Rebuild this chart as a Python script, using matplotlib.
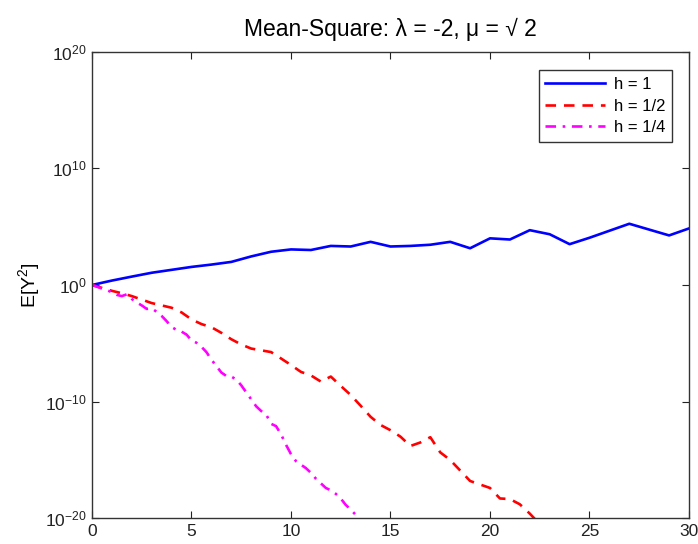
import numpy as np
import matplotlib
matplotlib.use("Agg")
import matplotlib.pyplot as plt
from matplotlib.ticker import FixedLocator, NullLocator, FuncFormatter

plt.rcParams['font.family'] = ['Liberation Sans', 'DejaVu Sans']
plt.rcParams['mathtext.fontset'] = 'custom'
plt.rcParams['mathtext.rm'] = 'Liberation Sans'
plt.rcParams['mathtext.it'] = 'Liberation Sans'
plt.rcParams['axes.unicode_minus'] = False

# log10 of E[Y^2]
t_h1 = list(range(0, 31))
log_h1 = [0.0, 0.38, 0.72, 1.05, 1.3, 1.55, 1.75, 1.98, 2.45, 2.85, 3.05,
          3.0, 3.35, 3.3, 3.7, 3.3, 3.35, 3.45, 3.7, 3.15, 4.0,
          3.9, 4.7, 4.35, 3.5, 4.05, 4.65, 5.25, 4.75, 4.25, 4.85]

t_h2 = [i * 0.5 for i in range(0, 46)]
log_h2 = [0.0, -0.25, -0.5, -0.71, -0.95, -1.25, -1.55, -1.75, -1.95, -2.35,
          -2.95, -3.35, -3.62, -4.1, -4.65, -5.1, -5.45, -5.6, -5.75, -6.3,
          -6.86, -7.45, -7.75, -8.28, -7.85, -8.65, -9.43, -10.35, -11.3, -12.0,
          -12.45, -13.0, -13.8, -13.5, -13.05, -14.35, -15.0, -15.9, -16.8, -17.1,
          -17.4, -18.3, -18.35, -18.8, -19.6, -20.5]

t_h4 = [i * 0.25 for i in range(0, 55)]
log_h4 = [0.0, -0.15, -0.3, -0.45, -0.62, -0.85, -0.95, -0.8, -1.2, -1.5,
          -1.75, -2.05, -2.0, -2.3, -2.65, -3.1, -3.6, -3.85, -4.0, -4.25,
          -4.75, -4.95, -5.3, -5.75, -6.4, -6.95, -7.5, -7.8, -7.85, -8.1,
          -8.6, -9.2, -9.8, -10.4, -10.8, -11.1, -11.9, -12.1, -12.8, -13.7,
          -14.5, -15.1, -15.4, -15.7, -16.1, -16.6, -17.0, -17.4, -17.6, -17.9,
          -18.3, -18.85, -19.25, -19.7, -20.2]

labels = ['h = 1', 'h = 1/2', 'h = 1/4']
xticks = [0, 5, 10, 15, 20, 25, 30]
yexps = [-20, -10, 0, 10, 20]

fig = plt.figure(figsize=(6.98, 5.44), dpi=100)
ax = fig.add_axes([92/698, 1 - 518.3/544, (689-92)/698, (518.3-51.7)/544])

ax.semilogy(t_h1, 10.0 ** np.array(log_h1), color='#0000FF', lw=1.9, ls='-', label=labels[0])
ax.semilogy(t_h2, 10.0 ** np.array(log_h2), color='#FF0000', lw=1.9, ls=(0, (4, 3)), label=labels[1])
ax.semilogy(t_h4, 10.0 ** np.array(log_h4), color='#FF00FF', lw=1.9, ls=(0, (4, 2.5, 1, 2.5)), label=labels[2])

ax.set_xlim(0, 30)
ax.set_ylim(1e-20, 1e20)
ax.xaxis.set_major_locator(FixedLocator(xticks))
ax.yaxis.set_major_locator(FixedLocator([10.0 ** e for e in yexps]))
ax.yaxis.set_minor_locator(NullLocator())
ax.xaxis.set_minor_locator(NullLocator())
ax.yaxis.set_major_formatter(FuncFormatter(
    lambda v, p: r'$\mathregular{10^{%d}}$' % int(round(np.log10(v)))))
ax.tick_params(direction='in', length=5, width=0.8, top=True, right=True,
               labelsize=12.5, colors='#222222', pad=4)
for s in ax.spines.values():
    s.set_color('#333333')
    s.set_linewidth(1.0)

ax.set_ylabel(r'E[Y$^2$]', fontsize=14, labelpad=2)
ax.set_title('Mean-Square: \u03bb = -2, \u03bc = \u221a 2', fontsize=16.5, pad=11)

leg = ax.legend(loc='upper right', fontsize=12, fancybox=False, edgecolor='#333333',
                framealpha=1, borderpad=0.4, handlelength=3.6, labelspacing=0.4,
                handletextpad=0.5, bbox_to_anchor=(0.985, 0.978))
leg.get_frame().set_linewidth(1.0)

fig.savefig('out.png', dpi=100)
